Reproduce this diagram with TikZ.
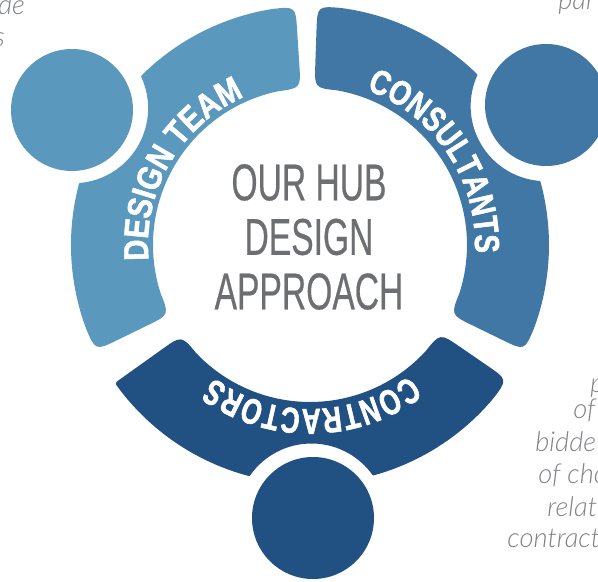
\documentclass[tikz,border=0pt]{standalone}
\usepackage{fontspec}
\usetikzlibrary{decorations.text}
\setmainfont{Liberation Sans}
\newfontfamily\titlef[FakeStretch=0.65,FakeBold=0.4]{Liberation Sans}
\newfontfamily\sidef{Lato Light Italic}
\newfontfamily\dtf[FakeStretch=0.84,FakeBold=1.5]{Liberation Sans Bold}
\newfontfamily\csf[FakeStretch=0.80,FakeBold=1.5]{Liberation Sans Bold}
\newfontfamily\ctf[FakeStretch=0.72,FakeBold=1.5]{Liberation Sans Bold}
\definecolor{dtc}{HTML}{5B98BE}
\definecolor{csc}{HTML}{4077A4}
\definecolor{ctc}{HTML}{215082}
\definecolor{titlec}{HTML}{6D6E71}
\definecolor{sidec}{HTML}{808285}
% color, start angle, cut-out axis, end angle, rounding at first outer corner
\newcommand{\ringseg}[5]{%
  \pgfmathsetmacro{\doa}{#5/238*57.3}
  \pgfmathsetmacro{\dob}{22/238*57.3}
  \pgfmathsetmacro{\di}{22/158*57.3}
  \path[segshape,#1,draw=#1,fill=#1]
    ({#2+\doa}:238) arc[start angle={#2+\doa},end angle={#3-15.13},radius=238]
    arc[start angle={#3+180+54.85},end angle={#3+180-54.85},radius=76]
    arc[start angle={#3+15.13},end angle={#4-\dob},radius=238]
    .. controls (#4:238) .. (#4:216) -- (#4:180)
    .. controls (#4:158) .. ({#4-\di}:158)
    arc[start angle={#4-\di},end angle={#2+\di},radius=158]
    .. controls (#2:158) .. (#2:180) -- ({#2}:{238-#5})
    .. controls (#2:238) .. cycle;}
\newcommand{\ringtext}[5]{% font, text, start angle, end angle, radius
  \path[decorate,decoration={text along path,text color=white,
     text align=fit to path,
     text={|#1|#2}}]
    (#3:#5) arc[start angle=#3,end angle=#4,radius=#5];}
\tikzset{
  segshape/.style={line width=1.5pt,line join=round},
  disc/.style={circle,inner sep=0pt,minimum size=91.5pt,draw=none},
  sidetext/.style={font=\sidef\fontsize{20.5}{23}\selectfont,text=sidec,inner sep=0pt,anchor=base west}
}
\begin{document}
\begin{tikzpicture}[x=0.75pt,y=0.75pt]
\useasboundingbox (-310,-336) rectangle (288,245);
\ringseg{dtc}{93.7}{150}{206}{22}
\ringseg{csc}{-26}{30.5}{88}{22}
\ringseg{ctc}{215.5}{270.3}{325.5}{4}
\node[disc,fill=dtc] (dtdisc) at (-238,135) {};
\node[disc,fill=csc] (csdisc) at (236,140) {};
\node[disc,fill=ctc] (ctdisc) at (3,-273) {};
\ringtext{\dtf\fontsize{26}{26}\selectfont}{DESIGN TEAM}{185.4}{116}{162}
\ringtext{\csf\fontsize{26}{26}\selectfont}{CONSULTANTS}{70}{-2}{165}
\ringtext{\ctf\fontsize{27}{27}\selectfont}{CONTRACTORS}{-52.7}{-126}{164}
\node[font=\titlef\fontsize{38.8}{40.9}\selectfont,text=titlec,align=center,inner sep=0pt]
  (title) at (-1,8) {OUR HUB\\DESIGN\\APPROACH};
\node[sidetext] (s1) at (-310+24,245-15) {\llap{de}};
\node[sidetext] (s2) at (-310+4,245-47) {\llap{s}};
\node[sidetext] (s3) at (558-310,245-10) {par};
\node[sidetext] (s4) at (590-310,245-392) {p};
\node[sidetext] (s5) at (573-310,245-418) {of};
\node[sidetext] (s6) at (535-310,245-451) {bidde};
\node[sidetext] (s7) at (538-310,245-483) {of cho};
\node[sidetext] (s8) at (547-310,245-516) {relat};
\node[sidetext] (s9) at (507-310,245-547) {contract};
\end{tikzpicture}
\end{document}
